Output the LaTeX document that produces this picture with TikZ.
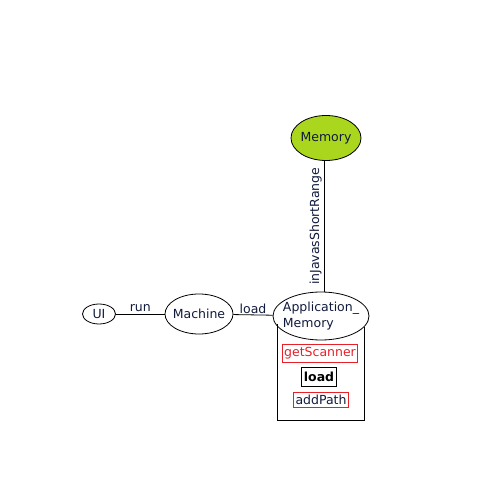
\documentclass[tikz,border=0pt]{standalone}
\usepackage{fontspec}
\setmainfont{DejaVu Sans}
\usetikzlibrary{shapes.geometric}
\definecolor{memgreen}{RGB}{170,214,30}
\definecolor{inkblue}{RGB}{16,26,60}
\definecolor{boxred}{RGB}{232,32,40}
\tikzset{
  obj/.style={draw, ellipse, inner sep=0pt, text=inkblue, font=\fontsize{12.5}{15.5}\selectfont},
  meth/.style={draw=boxred, rectangle, inner xsep=2pt, inner ysep=3pt, text=inkblue, font=\fontsize{12.5}{14}\selectfont},
  lbl/.style={text=inkblue, font=\fontsize{12.5}{14}\selectfont}
}
\begin{document}
\begin{tikzpicture}[x=1pt, y=-1pt, line width=0.8pt]
        \useasboundingbox (0,0) rectangle (490,478);
        % Nodes
        \node[obj, minimum width=33pt, minimum height=20pt] (ui) at (99,314) {UI};
        \node[obj, inner xsep=-8pt, minimum width=68pt, minimum height=40pt] (mach) at (199,314) {Machine};
        \node[obj, inner xsep=-13pt, minimum width=96pt, minimum height=48pt, align=left] (app) at (321,316) {Application\_\\Memory};
        \node[obj, inner xsep=-8pt, fill=memgreen, minimum width=70pt, minimum height=45pt] (mem) at (326,138) {Memory};

        % Methods
        \node[meth, text=boxred] (scan) at (320,353) {getScanner};
        \node[meth, draw=black, text=black, inner ysep=4.5pt, font=\fontsize{12.5}{14}\selectfont\bfseries] (ld) at (319,377) {load};
        \node[meth] (path) at (321,400) {addPath};

        % Edges
        \coordinate (axis) at (324,0);
        \draw (ui) -- node[lbl, above, inner sep=2pt] {run} (mach);
        \draw (mach) -- node[lbl, above, inner sep=1pt] {load} (app);
        \draw (app.north -| axis) -- node[lbl, above, sloped, inner sep=2pt] {inJavasShortRange} (mem.south -| axis);

        % Container
        \coordinate (cl) at (277,420);
        \coordinate (cr) at (364,420);
        \draw (cl |- app.-170) -- (cl) -- (cr) -- (cr |- app.-15);
    \end{tikzpicture}
\end{document}
